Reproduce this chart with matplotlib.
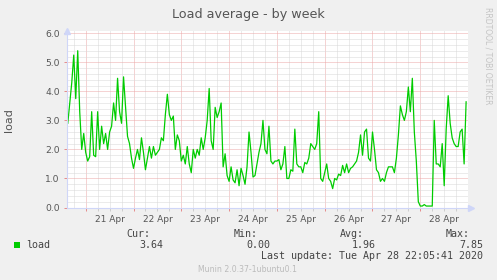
import numpy as np
import matplotlib
matplotlib.use("Agg")
import matplotlib.pyplot as plt
from matplotlib.transforms import blended_transform_factory

# hourly load average, starting Apr 20 15:00 (hours relative to Apr 21 00:00)
start_hour = -9
load_apr20 = [2.9, 3.6, 4.3, 5.25, 3.75, 5.4, 3.3, 2.0, 2.55]
load_apr21 = [1.9, 1.6, 1.75, 3.3, 1.8, 1.75, 3.3, 2.0, 2.8, 2.2, 2.55, 2.0,
              2.6, 2.8, 3.6, 3.0, 4.45, 3.3, 2.9, 4.5, 3.5, 2.45, 2.2, 1.7]
load_apr22 = [1.35, 1.7, 2.0, 1.65, 2.4, 1.9, 1.3, 1.7, 2.1, 1.7, 2.1, 1.8,
              1.9, 2.0, 2.4, 2.3, 3.2, 3.9, 3.2, 3.0, 3.15, 2.0, 2.5, 2.3]
load_apr23 = [1.6, 1.8, 1.5, 2.1, 1.5, 1.2, 2.0, 1.7, 2.0, 1.8, 2.4, 2.0,
              2.4, 3.0, 4.1, 2.3, 2.0, 3.45, 3.1, 3.3, 3.6, 1.4, 1.85, 1.1]
load_apr24 = [0.9, 1.4, 0.95, 0.85, 1.3, 0.75, 1.35, 1.1, 0.8, 1.4, 2.6, 1.9,
              1.05, 1.1, 1.5, 1.9, 2.2, 3.0, 2.0, 1.85, 2.8, 1.6, 1.5, 1.6]
load_apr25 = [1.6, 1.65, 1.3, 1.5, 2.1, 1.0, 1.0, 1.3, 1.25, 2.7, 1.5, 1.4,
              1.4, 1.2, 1.55, 1.5, 1.7, 2.2, 2.1, 2.0, 2.2, 3.3, 1.0, 0.9]
load_apr26 = [1.2, 1.5, 1.0, 0.9, 0.65, 1.0, 0.95, 1.15, 1.1, 1.45, 1.2, 1.5,
              1.2, 1.35, 1.4, 1.5, 1.6, 1.9, 2.5, 1.8, 2.6, 2.7, 1.7, 1.6]
load_apr27 = [2.6, 2.0, 1.3, 1.2, 0.9, 1.0, 0.9, 1.2, 1.4, 1.4, 1.4, 1.2,
              1.7, 2.5, 3.5, 3.2, 3.0, 3.3, 4.15, 3.3, 4.45, 2.6, 1.6, 0.2]
load_apr28 = [0.05, 0.05, 0.1, 0.05, 0.05, 0.05, 0.05, 3.0, 1.5, 1.5, 1.4, 2.2,
              0.75, 2.7, 3.85, 2.9, 2.4, 2.2, 2.1, 2.1, 2.6, 2.7, 1.5, 3.64]

day_labels = ["21 Apr", "22 Apr", "23 Apr", "24 Apr", "25 Apr", "26 Apr", "27 Apr", "28 Apr"]
legend_heads = ["Cur:", "Min:", "Avg:", "Max:"]
legend_values = ["3.64", "0.00", "1.96", "7.85"]

load = (load_apr20 + load_apr21 + load_apr22 + load_apr23 + load_apr24
        + load_apr25 + load_apr26 + load_apr27 + load_apr28)
days = (start_hour + np.arange(len(load))) / 24.0

W, H = 497, 280
def fx(px):
    return px / W
def fy(py):
    return 1 - py / H

BG = "#F0F0F0"
FONT = "#555555"
AXIS = "#CFD6F8"
GREEN = "#00CC00"

fig = plt.figure(figsize=(W / 100, H / 100), dpi=100, facecolor=BG)
left, right, top, bottom = 66.7, 468.0, 31.0, 207.5
ax = fig.add_axes([fx(left), fy(bottom), fx(right - left), (bottom - top) / H])
ax.set_facecolor("white")

x0 = (left - 85.7) / 47.8
x1 = (right - 85.7) / 47.8
ax.set_xlim(x0, x1)
ax.set_ylim(0, 6 * (bottom - top) / (bottom - 33.3))

# grid
dot = (0, (1, 1))
for h in np.arange(-0.25, 8.0, 0.25):
    if h > x0:
        major = abs(h - round(h)) < 1e-6
        ax.axvline(h, color="#ECA9A9" if major else "#D9D9D9", lw=0.72, ls=dot, zorder=1)
for v in np.arange(0.2, 6.01, 0.2):
    major = abs(v - round(v)) < 1e-6
    ax.axhline(v, color="#ECA9A9" if major else "#D9D9D9", lw=0.72, ls=dot, zorder=1)

ax.plot(days, load, color=GREEN, lw=0.9, zorder=3, solid_joinstyle="round")

for s in ["top", "right"]:
    ax.spines[s].set_visible(False)
for s in ["left", "bottom"]:
    ax.spines[s].set_color(AXIS)
    ax.spines[s].set_linewidth(0.8)
    ax.spines[s].set_zorder(4)

ax.set_xticks(np.arange(0, 8))
ax.set_xticks(np.arange(-0.25, 8.0, 0.25)[1:], minor=True)
ax.set_xticklabels([])
ax.tick_params(axis="x", which="major", length=2.5, width=0.7, color="#E58A8A", direction="out")
ax.tick_params(axis="x", which="minor", length=2, width=0.7, color="#CCCCCC", direction="out")
ax.set_yticks(np.arange(0, 6.01, 1.0))
ax.set_yticklabels([f"{v:.1f}" for v in np.arange(0, 6.01, 1.0)], fontsize=6.6, color=FONT)
ax.tick_params(axis="y", which="major", length=2, width=0.7, color="#E58A8A", pad=3)

trans = blended_transform_factory(ax.transData, ax.transAxes)
for i, lab in enumerate(day_labels):
    ax.text(i + 0.5, 0, lab, transform=trans, ha="center", va="baseline",
            fontsize=6.5, color=FONT)
for t in ax.texts:
    t.set_y(-(221.7 - bottom) / (bottom - top))

# axis arrows
ax.plot([0], [1.0], marker="^", ms=4, color=AXIS, transform=ax.transAxes, clip_on=False, zorder=5)
ax.plot([1.0 + 3 / (right - left)], [0], marker=">", ms=4, color=AXIS,
        transform=ax.transAxes, clip_on=False, zorder=5)

fig.text(fx(248), fy(18.3), "Load average - by week", ha="center", va="baseline",
         fontsize=9.2, color=FONT)
fig.text(fx(9), fy(120), "load", rotation=90, ha="center", va="center",
         fontsize=8, color=FONT)
fig.text(fx(488), fy(56), "RRDTOOL / TOBI OETIKER", rotation=270, ha="center", va="center",
         fontsize=5.5, color="#C4C4C4")

mono = "DejaVu Sans Mono"
LEG = "#444444"
head_right = [150, 258, 364, 470]
val_right = [163, 270, 376, 483]
for hx, head in zip(head_right, legend_heads):
    fig.text(fx(hx), fy(236.7), head, ha="right", va="baseline", family=mono, fontsize=7.2, color=LEG)
for vx, val in zip(val_right, legend_values):
    fig.text(fx(vx), fy(248), val, ha="right", va="baseline", family=mono, fontsize=7.2, color=LEG)
fig.patches.append(plt.Rectangle((fx(14), fy(247.5)), 6 / W, 6 / H, transform=fig.transFigure,
                                 facecolor=GREEN, edgecolor="none"))
fig.text(fx(26), fy(248), "load", ha="left", va="baseline", family=mono, fontsize=7.2, color=LEG)
fig.text(fx(483), fy(259.3), "Last update: Tue Apr 28 22:05:41 2020", ha="right", va="baseline",
         family=mono, fontsize=7.2, color=LEG)
fig.text(fx(248), fy(272), "Munin 2.0.37-1ubuntu0.1", ha="center", va="baseline",
         fontsize=5.6, color="#BBBBBB")

fig.savefig("out.png", dpi=100, facecolor=BG)
